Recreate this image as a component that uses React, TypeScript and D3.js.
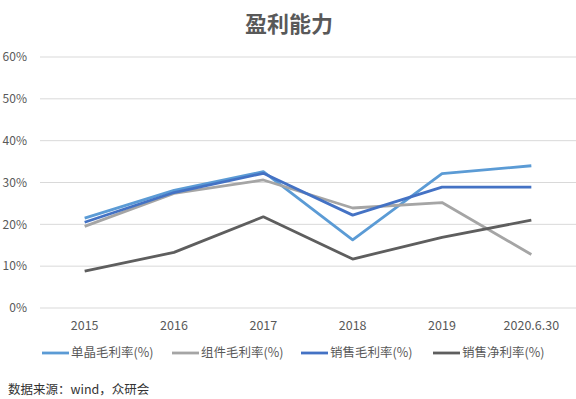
import * as d3 from "d3"

const categories = ["2015", "2016", "2017", "2018", "2019", "2020.6.30"]
const yTicks = [0, 10, 20, 30, 40, 50, 60]

const seriesNames = ["单晶毛利率(%)", "组件毛利率(%)", "销售毛利率(%)", "销售净利率(%)"]
const seriesColors = ["#5B9BD5", "#A5A5A5", "#4472C4", "#5E5E5E"]

const monoMargin = [21.5, 28.1, 32.6, 16.3, 32.1, 34.0]
const moduleMargin = [19.5, 27.4, 30.6, 23.9, 25.2, 12.8]
const salesMargin = [20.5, 27.6, 32.2, 22.2, 28.9, 28.9]
const netMargin = [8.8, 13.3, 21.8, 11.7, 16.9, 21.0]

const seriesValues = [monoMargin, moduleMargin, salesMargin, netMargin]

const width = 576
const height = 399
const font = "'Microsoft YaHei', 'Noto Sans CJK SC', sans-serif"

export default function App() {
  const x = d3.scaleBand<string>().domain(categories).range([40, 576])
  const y = d3.scaleLinear().domain([0, 60]).range([308, 57])

  const line = d3
    .line<number>()
    .x((_, i) => x(categories[i])! + x.bandwidth() / 2)
    .y((d) => y(d))

  // legend positions
  const legendX = [42, 172, 301, 433]

  return (
    <svg
      width={width}
      height={height}
      style={{ position: "absolute", left: 0, top: 0, background: "#fff" }}
      fontFamily={font}
    >
      <text
        x={289}
        y={32}
        textAnchor="middle"
        fontSize={22}
        fontWeight="bold"
        fill="#595959"
      >
        盈利能力
      </text>

      {yTicks.map((t) => (
        <g key={t}>
          <line x1={40} x2={576} y1={y(t)} y2={y(t)} stroke="#d9d9d9" strokeWidth={1} />
          <text x={27} y={y(t)} dy="0.35em" textAnchor="end" fontSize={12} fill="#595959">
            {t}%
          </text>
        </g>
      ))}

      {categories.map((c) => (
        <text
          key={c}
          x={x(c)! + x.bandwidth() / 2}
          y={330}
          textAnchor="middle"
          fontSize={12.5}
          fill="#595959"
        >
          {c}
        </text>
      ))}

      {seriesValues.map((vals, i) => (
        <path
          key={i}
          d={line(vals) ?? undefined}
          fill="none"
          stroke={seriesColors[i]}
          strokeWidth={2.8}
          strokeLinejoin="round"
        />
      ))}

      {seriesNames.map((name, i) => (
        <g key={name}>
          <line
            x1={legendX[i]}
            x2={legendX[i] + 27}
            y1={353}
            y2={353}
            stroke={seriesColors[i]}
            strokeWidth={2.8}
          />
          <text x={legendX[i] + 29} y={353} dy="0.35em" fontSize={12.5} fill="#595959">
            {name}
          </text>
        </g>
      ))}

      <text x={8} y={390} dy="0.35em" fontSize={12.5} fill="#333">
        数据来源：wind，众研会
      </text>
    </svg>
  )
}
